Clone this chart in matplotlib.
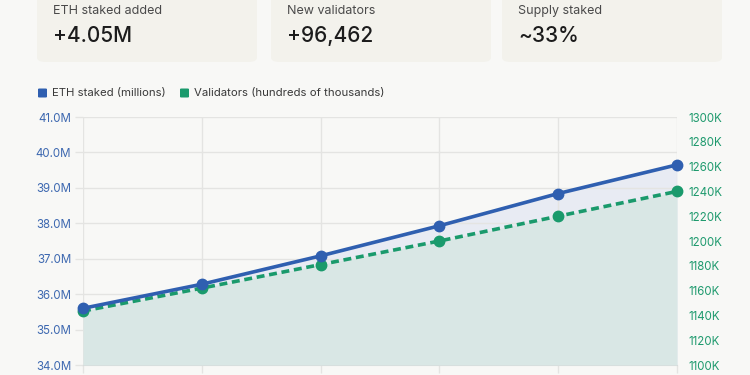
import matplotlib
matplotlib.use("Agg")
import matplotlib.pyplot as plt
from matplotlib.patches import FancyBboxPatch
from matplotlib.ticker import FuncFormatter, MultipleLocator

plt.rcParams['font.family'] = ['Inter', 'DejaVu Sans']

# ---- data ----
periods = ["P1", "P2", "P3", "P4", "P5", "P6"]
eth_staked_m = [35.60, 36.28, 37.08, 37.93, 38.84, 39.65]
validators_k = [1143.5, 1162, 1181, 1200, 1220, 1240]
card_labels = ["ETH staked added", "New validators", "Supply staked"]
card_values = ["+4.05M", "+96,462", "~33%"]
legend_labels = ["ETH staked (millions)", "Validators (hundreds of thousands)"]

BG = "#f8f8f6"
CARD = "#f3f2ec"
BLUE = "#2f5fb0"
GREEN = "#1a9a6c"
GRID = "#e4e4e2"

W, H = 750, 375
fig = plt.figure(figsize=(7.5, 3.75), dpi=100, facecolor=BG)

def fx(px):
    return px / W

def fy(py):
    return 1 - py / H

# ---- cards ----
card_x = [37, 271, 502]
card_w = 220
for x0, lab, val in zip(card_x, card_labels, card_values):
    p = FancyBboxPatch((fx(x0), fy(62)), fx(card_w), fy(-20) - fy(62),
                       boxstyle="round,pad=0,rounding_size=0.012",
                       transform=fig.transFigure, facecolor=CARD,
                       edgecolor="none", zorder=0)
    fig.patches.append(p)
    fig.text(fx(x0 + 16), fy(11), lab, fontsize=9.0, color="#4a4a4a",
             va="center", ha="left")
    fig.text(fx(x0 + 16), fy(36), val, fontsize=15, color="#1c1c1c",
             va="center", ha="left", fontweight="medium")

# ---- legend ----
leg_items = [(38, BLUE, legend_labels[0]), (180, GREEN, legend_labels[1])]
for x0, c, lab in leg_items:
    sq = FancyBboxPatch((fx(x0), fy(97.5)), fx(9), fy(88.5) - fy(97.5),
                        boxstyle="round,pad=0,rounding_size=0.002",
                        transform=fig.transFigure, facecolor=c,
                        edgecolor="none")
    fig.patches.append(sq)
    fig.text(fx(x0 + 14), fy(93), lab, fontsize=8.2, color="#3a3a3a",
             va="center", ha="left")

# ---- chart ----
left, right, top, bottom = 83, 677, 117, 365
rect = [fx(left), fy(bottom), fx(right - left), fy(top) - fy(bottom)]
x = list(range(len(periods)))

# bottom layer: ETH fill, grid, left axis
ax = fig.add_axes(rect)
ax.set_facecolor("none")
ax.fill_between(x, eth_staked_m, 34, color="#e8ebf3", zorder=1, linewidth=0)
ax.set_ylim(34, 41)
ax.set_xlim(0, len(periods) - 1)
ax.yaxis.set_major_locator(MultipleLocator(1))
ax.yaxis.set_major_formatter(FuncFormatter(lambda v, p: f"{v:.1f}M"))
ax.tick_params(axis="y", colors=GRID, labelcolor="#3d68b0", labelsize=8.3,
               length=6, width=1, pad=2.5)
ax.set_xticks(x)
ax.set_xticklabels([""] * len(x))
ax.tick_params(axis="x", colors=GRID, length=6, width=1)
ax.grid(True, color=GRID, lw=1, zorder=0)
for s in ["top", "right", "left"]:
    ax.spines[s].set_visible(False)
ax.spines["bottom"].set_color("#d6d8d8")

# middle layer: validators
ax2 = ax.twinx()
ax2.fill_between(x, validators_k, 1100, color="#d9e7e5", zorder=1,
                 linewidth=0)
ax2.plot(x, validators_k, color=GREEN, lw=2.6, ls=(0, (2.2, 1.3)),
         zorder=3, clip_on=False)
ax2.plot(x, validators_k, color=GREEN, ls="none", marker="o", ms=7.5,
         zorder=4, clip_on=False)
ax2.set_ylim(1100, 1300)
ax2.yaxis.set_major_locator(MultipleLocator(20))
ax2.yaxis.set_major_formatter(FuncFormatter(lambda v, p: f"{int(v)}K"))
ax2.tick_params(axis="y", colors=GREEN, labelcolor="#1f9a6e", labelsize=8.3,
                length=0, pad=8)
for s in ["top", "right", "left", "bottom"]:
    ax2.spines[s].set_visible(False)

# top layer: ETH line
ax3 = fig.add_axes(rect, sharex=ax, sharey=ax)
ax3.patch.set_visible(False)
ax3.plot(x, eth_staked_m, color=BLUE, lw=2.6, marker="o", ms=7.5,
         clip_on=False)
ax3.axis("off")

fig.savefig("out.png", dpi=100, facecolor=BG)
